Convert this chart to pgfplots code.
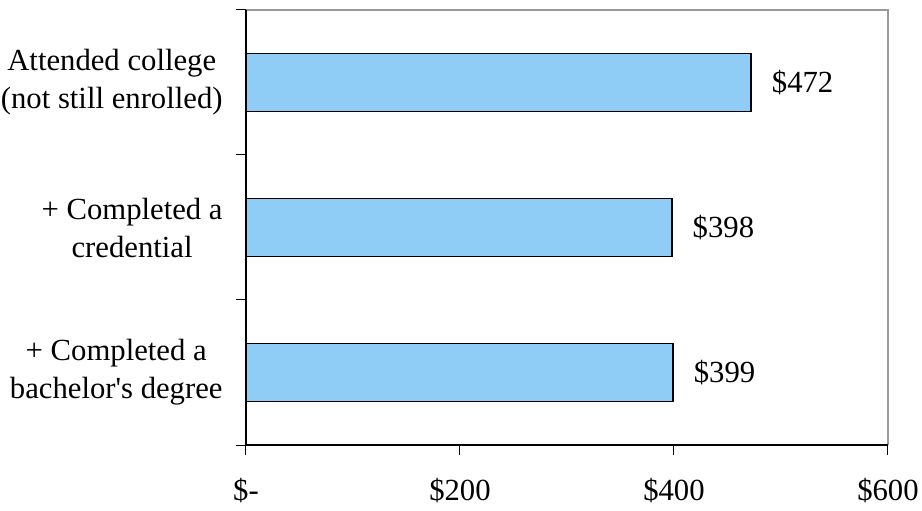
\documentclass[border=0pt]{standalone}
\usepackage{fontspec}
\setmainfont{Liberation Serif}
\usepackage{pgfplots}
\usepackage{pgfplotstable}
\pgfplotsset{compat=1.18}
\definecolor{barblue}{RGB}{143,204,246}
\pgfplotstableread{
y x lab
0 399 {\$399}
1 398 {\$398}
2 472 {\$472}
}\datatable
\begin{document}
\fontsize{30.7bp}{38bp}\selectfont
\begin{tikzpicture}
\path[use as bounding box] (-246bp,-66bp) rectangle (676bp,445bp);
\begin{axis}[
  at={(0,0)}, anchor=south west,
  scale only axis=true,
  width=642bp, height=435bp,
  xmin=0, xmax=600, ymin=-0.5, ymax=2.5,
  xbar, bar width=0.4,
  axis line style={draw=none},
  xtick pos=bottom, ytick pos=left,
  xtick={0,200,400,600},
  xticklabels={\$-,\$200,\$400,\$600},
  ytick={0,1,2},
  yticklabels={{+ Completed a\\bachelor\textquotesingle s degree},{+ Completed a\\credential},{Attended college\\(not still enrolled)}},
  minor ytick={-0.5,0.5,1.5,2.5},
  major y tick style={draw=none},
  tick align=outside,
  major tick length=10bp, minor tick length=10bp,
  tick style={black, line width=1bp},
  every x tick/.style={black, line width=1bp},
  xticklabel style={font=\fontsize{30.7bp}{38bp}\selectfont, yshift=-13bp},
  yticklabel style={font=\fontsize{30.7bp}{38bp}\selectfont, align=center, xshift=-3bp},
  nodes near coords,
  point meta=explicit symbolic,
  every node near coord/.append style={font=\fontsize{30.7bp}{38bp}\selectfont, anchor=west, xshift=10bp, black},
  clip=false,
]
\addplot[fill=barblue, draw=black, line width=1.3bp] table[x=x, y=y, meta=lab] {\datatable};
\draw[gray!80, line width=1.2bp] (rel axis cs:0,1) -- (rel axis cs:1,1) -- (rel axis cs:1,0);
\draw[black, line width=1.2bp] (rel axis cs:0,1) -- (rel axis cs:0,0) -- (rel axis cs:1,0);
\end{axis}
\end{tikzpicture}
\end{document}
